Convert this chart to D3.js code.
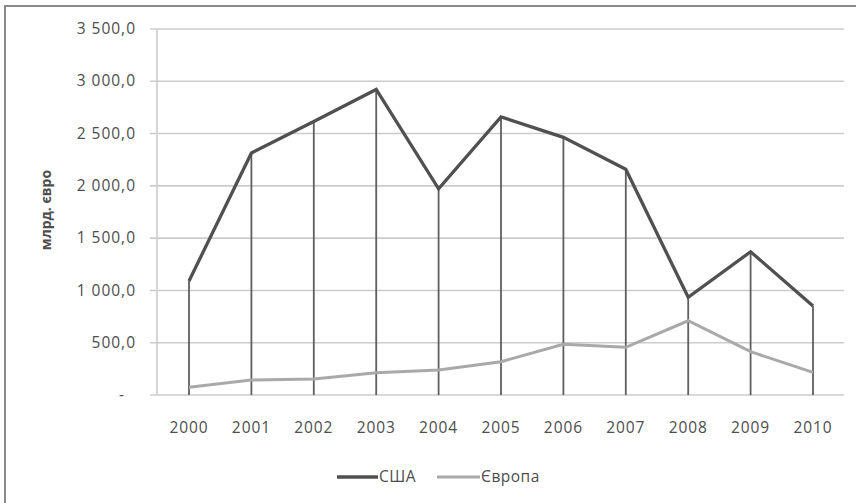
<!DOCTYPE html>
<html><head><meta charset="utf-8">
<script src="https://cdn.jsdelivr.net/npm/d3@7"></script>
<style>
body{margin:0;background:#fff;}
text{font-family:"Open Sans",sans-serif;fill:#4d4d4d;}
</style></head>
<body><svg id="c" width="856" height="503"></svg>
<script>
const years = ["2000","2001","2002","2003","2004","2005","2006","2007","2008","2009","2010"];
const usa = [1090, 2315, 2615, 2922, 1972, 2660, 2464, 2158, 934, 1370, 851];
const europe = [74, 143, 153, 213, 239, 318, 485, 456, 710, 414, 217];
const yTicks = [0, 500, 1000, 1500, 2000, 2500, 3000, 3500];
const seriesNames = ["США", "Європа"];
const yTitle = "млрд. євро";

const svg = d3.select("#c");
svg.append("rect").attr("x",0).attr("y",0).attr("width",856).attr("height",503).attr("fill","#fff");
svg.append("rect").attr("x",5).attr("y",6).attr("width",880).attr("height",540)
  .attr("fill","none").attr("stroke","#8a8a8a").attr("stroke-width",2);

const x = d3.scaleBand().domain(years).range([157.8, 844.2]);
const y = d3.scaleLinear().domain([0,3500]).range([395, 29]);
const cx = d => x(d) + x.bandwidth()/2;

// gridlines
svg.append("g").selectAll("line").data(yTicks).join("line")
  .attr("x1",150).attr("x2",844).attr("y1",d=>y(d)).attr("y2",d=>y(d))
  .attr("stroke","#cccccc").attr("stroke-width",1.6);
// y axis line
svg.append("line").attr("x1",157).attr("x2",157).attr("y1",29).attr("y2",395)
  .attr("stroke","#cccccc").attr("stroke-width",1.6);

const fmt = v => v===0 ? "-" : d3.formatLocale({decimal:",",thousands:"\u00a0",grouping:[3]}).format(",.1f")(v);
const yAxis = d3.axisLeft(y).tickValues(yTicks).tickFormat(fmt).tickSize(0).tickPadding(0);
const ga = svg.append("g").attr("transform","translate(136,0)").call(yAxis);
ga.select(".domain").remove();
ga.selectAll("text").style("font-size","15.5px").style("letter-spacing","1px").attr("fill","#4d4d4d")
  .attr("dy","0.3em").attr("dx", d => d===0 ? -11 : 0);

// drop lines
svg.append("g").selectAll("line").data(years).join("line")
  .attr("x1",d=>cx(d)).attr("x2",d=>cx(d))
  .attr("y1",(d,i)=>y(Math.max(usa[i],europe[i]))).attr("y2",395)
  .attr("stroke","#5f5f5f").attr("stroke-width",1.8);

// x axis
const xAxis = d3.axisBottom(x).tickSize(0).tickPadding(0);
const gx = svg.append("g").attr("transform","translate(0,395)").call(xAxis);
gx.select(".domain").remove();
gx.selectAll("text").style("font-size","15.5px").style("letter-spacing","0.9px").attr("fill","#4d4d4d")
  .attr("y",38).attr("dy",0);

const line = d3.line().x((d,i)=>cx(years[i])).y(d=>y(d));
svg.append("path").attr("d",line(europe)).attr("fill","none").attr("stroke","#a9a9a9").attr("stroke-width",3);
svg.append("path").attr("d",line(usa)).attr("fill","none").attr("stroke","#505050").attr("stroke-width",3.3).attr("stroke-linejoin","miter");

// y title
svg.append("text").attr("transform","translate(51,210) rotate(-90)").attr("text-anchor","middle")
  .style("font-size","14px").style("font-weight","bold").attr("fill","#3a3a3a").text(yTitle);

// legend
const legend = [{name:seriesNames[0], c:"#505050", w:3.3, x1:337, x2:378},
                {name:seriesNames[1], c:"#a9a9a9", w:3, x1:437, x2:480}];
const lg = svg.append("g");
legend.forEach(l=>{
  lg.append("line").attr("x1",l.x1).attr("x2",l.x2).attr("y1",477).attr("y2",477).attr("stroke",l.c).attr("stroke-width",l.w);
  lg.append("text").attr("x",l.x2+1).attr("y",482).style("font-size","15.5px").style("letter-spacing","0.5px").attr("fill","#4d4d4d").text(l.name);
});
</script></body></html>
